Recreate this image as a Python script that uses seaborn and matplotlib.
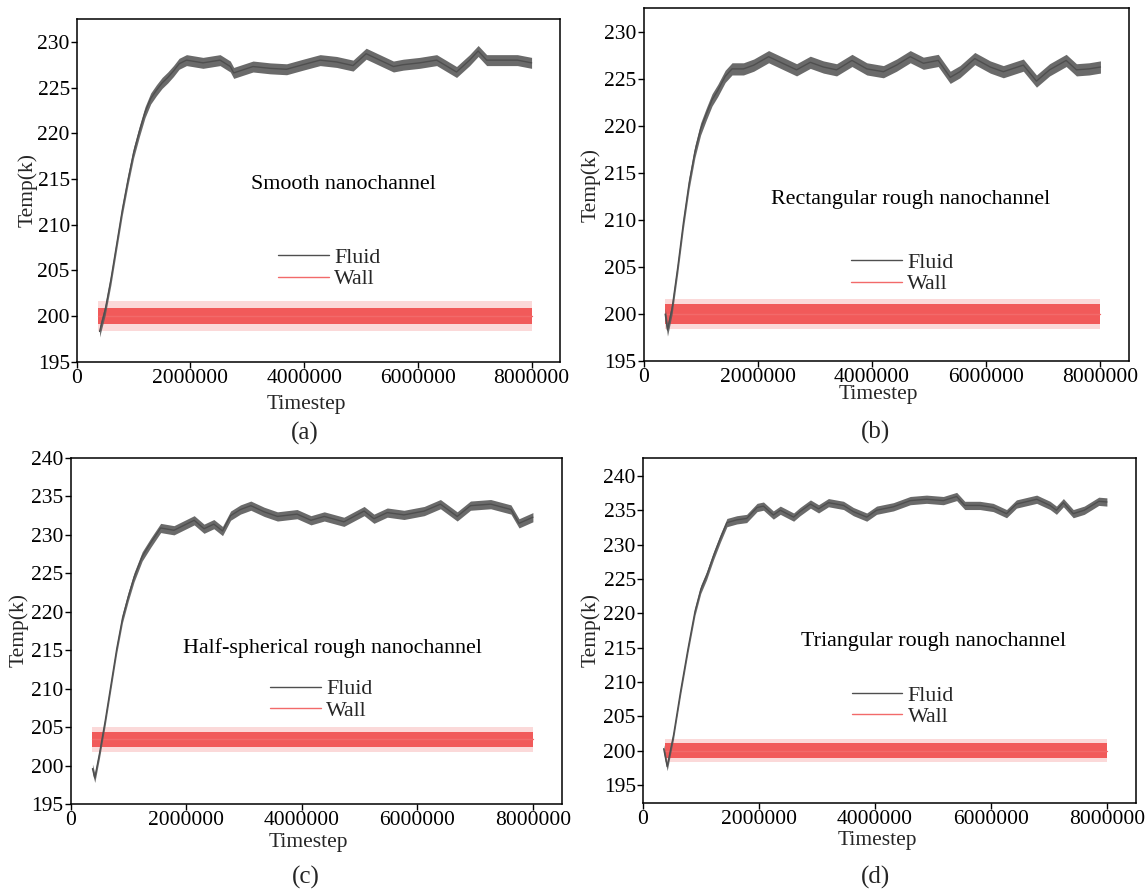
import matplotlib
matplotlib.use("Agg")
import matplotlib.pyplot as plt
import seaborn as sns
import pandas as pd
import numpy as np
from matplotlib.ticker import FixedLocator, FuncFormatter

# ---------------- data ----------------
panel_titles = ["Smooth nanochannel", "Rectangular rough nanochannel",
                "Half-spherical rough nanochannel", "Triangular rough nanochannel"]
panel_letters = ["(a)", "(b)", "(c)", "(d)"]

fluid_t_a = [400000, 500000, 600000, 700000, 800000, 900000, 1000000, 1100000, 1200000,
             1300000, 1400000, 1500000, 1600000, 1700000, 1800000, 1930000, 2220000, 2520000,
             2700000, 2760000, 3100000, 3400000, 3690000, 3980000, 4280000, 4570000, 4860000,
             5090000, 5330000, 5570000, 5740000, 6030000, 6330000, 6680000, 6910000, 7060000,
             7210000, 7500000, 7750000, 8000000]
fluid_v_a = [198.3, 200.7, 204.0, 207.8, 211.6, 214.9, 217.9, 220.2, 222.3, 223.8, 224.7,
             225.5, 226.1, 226.8, 227.6, 228.0, 227.7, 228.0, 227.3, 226.6, 227.3, 227.1,
             227.0, 227.5, 228.0, 227.8, 227.4, 228.7, 228.0, 227.3, 227.5, 227.7, 228.0,
             226.7, 228.0, 229.0, 228.0, 228.0, 228.0, 227.7]

fluid_t_b = [380000, 420000, 500000, 600000, 700000, 800000, 900000, 1000000, 1100000,
             1200000, 1300000, 1430000, 1550000, 1750000, 1930000, 2190000, 2330000, 2680000,
             2920000, 3150000, 3380000, 3650000, 3910000, 4200000, 4430000, 4670000, 4900000,
             5160000, 5370000, 5540000, 5800000, 6070000, 6300000, 6650000, 6880000, 7110000,
             7400000, 7580000, 7800000, 8000000]
fluid_v_b = [200.0, 198.3, 200.6, 205.0, 209.8, 214.0, 217.3, 219.7, 221.3, 222.8, 223.8,
             225.3, 226.1, 226.1, 226.5, 227.4, 227.0, 226.0, 226.8, 226.3, 226.0, 227.0,
             226.1, 225.8, 226.5, 227.4, 226.7, 227.0, 225.2, 225.8, 227.2, 226.3, 225.8,
             226.5, 224.8, 226.0, 227.0, 226.0, 226.1, 226.3]

fluid_t_c = [380000, 420000, 500000, 600000, 700000, 800000, 900000, 1000000, 1100000,
             1240000, 1390000, 1560000, 1790000, 2140000, 2310000, 2480000, 2630000, 2770000,
             2940000, 3120000, 3350000, 3580000, 3920000, 4160000, 4390000, 4730000, 5080000,
             5250000, 5480000, 5770000, 6120000, 6400000, 6690000, 6920000, 7270000, 7620000,
             7760000, 8000000]
fluid_v_c = [199.6, 198.4, 201.5, 205.8, 210.5, 215.2, 219.2, 222.0, 224.5, 227.2, 229.0,
             230.9, 230.6, 231.9, 230.8, 231.4, 230.5, 232.5, 233.3, 233.8, 233.0, 232.4,
             232.7, 231.9, 232.4, 231.7, 233.1, 232.1, 232.9, 232.6, 233.1, 234.0, 232.4,
             233.8, 234.0, 233.3, 231.5, 232.3]

fluid_t_d = [360000, 420000, 530000, 650000, 780000, 900000, 1000000, 1100000, 1220000,
             1340000, 1450000, 1620000, 1790000, 1970000, 2080000, 2250000, 2370000, 2600000,
             2710000, 2890000, 3030000, 3200000, 3460000, 3630000, 3860000, 4030000, 4320000,
             4610000, 4890000, 5180000, 5410000, 5550000, 5810000, 6040000, 6270000, 6440000,
             6790000, 7020000, 7130000, 7250000, 7420000, 7610000, 7860000, 8000000]
fluid_v_d = [200.3, 197.7, 202.3, 208.6, 214.9, 220.3, 223.5, 225.5, 228.4, 231.0, 233.2,
             233.6, 233.8, 235.4, 235.6, 234.3, 235.0, 234.0, 234.8, 235.9, 235.2, 236.1,
             235.7, 234.8, 234.0, 235.0, 235.5, 236.4, 236.6, 236.4, 237.0, 235.7, 235.7,
             235.4, 234.5, 235.9, 236.6, 235.7, 235.0, 236.1, 234.5, 235.0, 236.3, 236.2]

wall_t = [380000, 8000000]
wall_level = [200.0, 200.0, 203.4, 200.0]          # mean wall temperature per panel
wall_spread_inner = [0.9, 1.05, 1.0, 1.1]           # half-width of dense noise band (K)
wall_spread_outer = [1.6, 1.6, 1.6, 1.7]            # half-width of sparse outliers (K)
fluid_spread = [0.6, 0.65, 0.6, 0.6]                # half-width of fluid noise band (K)

y_limits = [(195, 232.5), (195, 232.55), (195, 240), (192.4, 242.6)]
y_ticks = [list(range(195, 231, 5)), list(range(195, 231, 5)),
           list(range(195, 241, 5)), list(range(195, 241, 5))]
x_ticks = [0, 2000000, 4000000, 6000000, 8000000]

fluid_t = [fluid_t_a, fluid_t_b, fluid_t_c, fluid_t_d]
fluid_v = [fluid_v_a, fluid_v_b, fluid_v_c, fluid_v_d]

# ---------------- styling ----------------
sns.set_theme(style="ticks")
plt.rcParams["font.family"] = ["Liberation Serif", "DejaVu Serif"]

W, H = 1146, 890
fig = plt.figure(figsize=(W / 100, H / 100), dpi=100)
fig.patch.set_facecolor("white")

# axes boxes in pixel coordinates: x0, x1, ytop, ybottom
boxes = [(76.8, 560.0, 19.0, 361.7), (643.5, 1129.0, 8.3, 361.0),
         (70.5, 561.8, 458.0, 804.0), (642.8, 1135.9, 458.0, 803.0)]
title_pos = [(0.552, 0.516), (0.551, 0.457), (0.534, 0.451), (0.589, 0.467)]
legend_pos = [(0.417, 0.272), (0.428, 0.248), (0.407, 0.301), (0.424, 0.281)]
ylabel_pos = [(27.4, 190), (591, 185), (18.3, 630), (591, 630)]
xlabel_pos = [(306, 405), (878, 395), (308, 842), (877, 840)]
letter_pos = [(305, 433), (876, 432), (306, 877), (876, 877)]

FLUID = "#4f4f4f"
WALL = "#f04848"

for i in range(4):
    x0, x1, yt, yb = boxes[i]
    ax = fig.add_axes([x0 / W, 1 - yb / H, (x1 - x0) / W, (yb - yt) / H])
    ax.set_facecolor("white")

    df_f = pd.DataFrame({"Timestep": fluid_t[i], "Temp": fluid_v[i]})
    df_w = pd.DataFrame({"Timestep": wall_t, "Temp": [wall_level[i]] * len(wall_t)})

    # wall noise bands
    ax.fill_between(df_w["Timestep"], df_w["Temp"] - wall_spread_outer[i],
                    df_w["Temp"] + wall_spread_outer[i], color="#f9b4b4", alpha=0.5,
                    linewidth=0, zorder=2)
    ax.fill_between(df_w["Timestep"], df_w["Temp"] - wall_spread_inner[i],
                    df_w["Temp"] + wall_spread_inner[i], color=WALL, alpha=0.88,
                    linewidth=0, zorder=2)
    # fluid noise band
    ax.fill_between(df_f["Timestep"], df_f["Temp"] - fluid_spread[i],
                    df_f["Temp"] + fluid_spread[i], color="#5a5a5a", alpha=0.9,
                    linewidth=0, zorder=3)

    sns.lineplot(data=df_f, x="Timestep", y="Temp", ax=ax, color=FLUID, lw=1.0,
                 label="Fluid", zorder=4)
    sns.lineplot(data=df_w, x="Timestep", y="Temp", ax=ax, color="#f26a6a", lw=1.0,
                 label="Wall", zorder=2.5)

    ax.set_xlim(0, 8500000)
    ax.set_ylim(*y_limits[i])
    ax.xaxis.set_major_locator(FixedLocator(x_ticks))
    ax.xaxis.set_major_formatter(FuncFormatter(lambda v, p: f"{int(round(v))}"))
    ax.yaxis.set_major_locator(FixedLocator(y_ticks[i]))
    ax.yaxis.set_major_formatter(FuncFormatter(lambda v, p: f"{int(round(v))}"))
    ax.tick_params(direction="out", length=4, width=1.0, labelsize=15.5, pad=1.0,
                   colors="black")
    for s in ax.spines.values():
        s.set_visible(True)
        s.set_color("black")
        s.set_linewidth(1.1)
    ax.set_xlabel("")
    ax.set_ylabel("")

    ax.text(title_pos[i][0], title_pos[i][1], panel_titles[i], transform=ax.transAxes,
            ha="center", va="center", fontsize=15.8, color="black")

    ax.legend(loc="center left", bbox_to_anchor=legend_pos[i], frameon=False,
              fontsize=15.8, handlelength=2.3, handletextpad=0.25,
              labelspacing=0.05, borderpad=0, borderaxespad=0)

    fig.text(ylabel_pos[i][0] / W, 1 - ylabel_pos[i][1] / H, "Temp(k)", rotation=90,
             ha="center", va="center", fontsize=15.5)
    fig.text(xlabel_pos[i][0] / W, 1 - xlabel_pos[i][1] / H, "Timestep",
             ha="center", va="center", fontsize=15.5)
    fig.text(letter_pos[i][0] / W, 1 - letter_pos[i][1] / H, panel_letters[i],
             ha="center", va="center", fontsize=18)

fig.savefig("out.png", dpi=100, facecolor="white")
